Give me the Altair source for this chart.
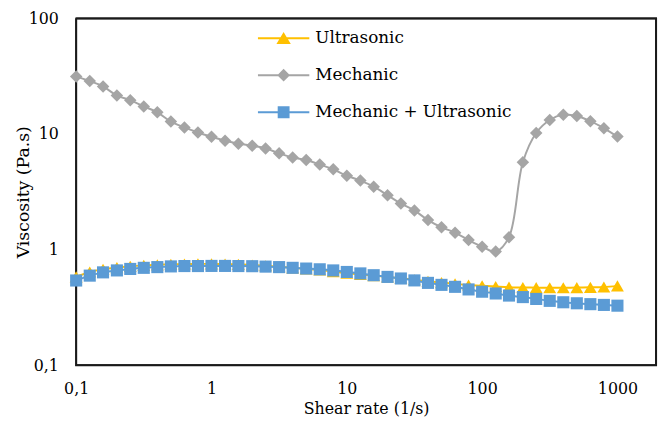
import altair as alt
import pandas as pd

# ---- data ----
shear_rate = [0.1, 0.126, 0.158, 0.2, 0.251, 0.316, 0.398, 0.501, 0.631, 0.794,
              1, 1.26, 1.58, 2, 2.51, 3.16, 3.98, 5.01, 6.31, 7.94,
              10, 12.6, 15.8, 20, 25.1, 31.6, 39.8, 50.1, 63.1, 79.4,
              100, 126, 158, 200, 251, 316, 398, 501, 631, 794, 1000]

ultrasonic = [0.58, 0.64, 0.675, 0.698, 0.715, 0.73, 0.738, 0.745, 0.75, 0.752,
              0.752, 0.75, 0.745, 0.735, 0.725, 0.71, 0.695, 0.68, 0.665, 0.645,
              0.625, 0.61, 0.595, 0.58, 0.565, 0.548, 0.532, 0.518, 0.505, 0.494,
              0.486, 0.479, 0.473, 0.47, 0.468, 0.467, 0.467, 0.469, 0.471, 0.474, 0.485]

mechanic = [31.5, 28.7, 25.8, 21.5, 19.6, 17.3, 15.4, 12.8, 11.4, 10.3,
            9.45, 8.75, 8.25, 7.9, 7.5, 6.8, 6.25, 5.95, 5.45, 4.95,
            4.35, 3.95, 3.5, 2.95, 2.5, 2.18, 1.8, 1.56, 1.4, 1.21,
            1.06, 0.96, 1.28, 5.7, 10.2, 13.2, 14.7, 14.3, 12.9, 11.2, 9.5]

mech_ultra = [0.54, 0.595, 0.635, 0.66, 0.68, 0.695, 0.705, 0.715, 0.72, 0.72,
              0.722, 0.722, 0.72, 0.718, 0.712, 0.705, 0.695, 0.685, 0.675, 0.66,
              0.64, 0.622, 0.6, 0.58, 0.562, 0.541, 0.515, 0.495, 0.476, 0.452,
              0.432, 0.417, 0.4, 0.388, 0.374, 0.36, 0.35, 0.343, 0.337, 0.332, 0.327]

series_names = ["Ultrasonic", "Mechanic", "Mechanic + Ultrasonic"]
series_colors = ["#FFC000", "#A5A5A5", "#5B9BD5"]
marker_shapes = ["triangle-up", "diamond", "square"]
marker_sizes = [170, 160, 150]
legend_paths = [
    "M-2.6,0H2.6M0,-0.42L0.55,0.48L-0.55,0.48Z",
    "M-2.6,0H2.6M0,-0.5L0.5,0L0,0.5L-0.5,0Z",
    "M-2.6,0H2.6M-0.5,-0.5H0.5V0.5H-0.5Z",
]

x_ticks = [0.1, 1, 10, 100, 1000]
y_ticks = [0.1, 1, 10, 100]
x_domain = [0.1, 1930]
y_domain = [0.1, 100]

rows = []
for name, vals in zip(series_names, [ultrasonic, mechanic, mech_ultra]):
    for i, (xv, yv) in enumerate(zip(shear_rate, vals)):
        rows.append({"series": name, "k": i, "rate": xv, "visc": yv})
# plot-area frame: a closed path through the domain corners
frame_x = [x_domain[0], x_domain[1], x_domain[1], x_domain[0], x_domain[0]]
frame_y = [y_domain[1], y_domain[1], y_domain[0], y_domain[0], y_domain[1]]
for i, (xv, yv) in enumerate(zip(frame_x, frame_y)):
    rows.append({"series": "frame", "k": i, "rate": xv, "visc": yv})
df = pd.DataFrame(rows)

W, H = 587, 351
FONT = "DejaVu Serif"
label_expr = "replace(format(datum.value, '~g'), '.', ',')"

x_axis = alt.Axis(title="Shear rate (1/s)", values=x_ticks, labelExpr=label_expr,
                  grid=False, ticks=False, domain=False, labelOverlap=False,
                  labelFlush=False, labelFont=FONT, labelFontSize=16,
                  labelColor="black", labelPadding=16, titleFont=FONT,
                  titleFontSize=16, titleFontWeight="normal", titleColor="black",
                  titlePadding=4)
y_axis = alt.Axis(title="Viscosity (Pa.s)", values=y_ticks, labelExpr=label_expr,
                  grid=False, ticks=False, domain=False, labelOverlap=False,
                  labelFlush=False, labelFont=FONT, labelFontSize=16,
                  labelColor="black", labelPadding=18, titleFont=FONT,
                  titleFontSize=17.5, titleFontWeight="normal", titleColor="black",
                  titlePadding=-4)

xs = alt.Scale(type="log", domain=x_domain, nice=False)
ys = alt.Scale(type="log", domain=y_domain, nice=False)
X = alt.X("rate:Q", scale=xs, axis=x_axis)
Y = alt.Y("visc:Q", scale=ys, axis=y_axis)

base = alt.Chart(df)
frame = base.transform_filter(alt.datum.series == "frame").mark_line(
    color="#1a1a1a", strokeWidth=2, strokeJoin="miter"
).encode(x=X, y=Y, order=alt.Order("k:Q"))

layers = [frame]
for name, color, shape, size in zip(series_names, series_colors, marker_shapes, marker_sizes):
    sub = base.transform_filter(alt.datum.series == name)
    layers.append(sub.mark_line(color=color, strokeWidth=2, interpolate="catmull-rom").encode(
        x=X, y=Y, order=alt.Order("k:Q")))
    layers.append(sub.mark_point(filled=True, shape=shape, size=size, color=color, opacity=1).encode(x=X, y=Y))

leg_props = dict(orient="none", legendX=199, legendY=9, title=None, symbolSize=400,
                 symbolStrokeWidth=2, labelFont=FONT, labelFontSize=17, labelColor="black",
                 labelOffset=21, rowPadding=17.5, padding=0, labelLimit=0)

legend_layer = alt.Chart(df).transform_filter("false").mark_point(filled=True, opacity=1).encode(
    x=X, y=Y,
    fill=alt.Fill("series:N", scale=alt.Scale(domain=series_names, range=series_colors),
                  legend=alt.Legend(**leg_props)),
    stroke=alt.Stroke("series:N", scale=alt.Scale(domain=series_names, range=series_colors),
                      legend=alt.Legend(**leg_props)),
    shape=alt.Shape("series:N", scale=alt.Scale(domain=series_names, range=legend_paths),
                    legend=alt.Legend(**leg_props)),
)
layers.append(legend_layer)

chart = alt.layer(*layers).properties(
    width=W, height=H,
    autosize=alt.AutoSizeParams(type="none"),
    padding={"left": 69, "top": 8, "right": 6, "bottom": 53},
    background="white",
).configure_view(stroke="#1a1a1a", strokeWidth=1.75)

chart.save("out.html", embed_options={"renderer": "svg", "actions": False})
